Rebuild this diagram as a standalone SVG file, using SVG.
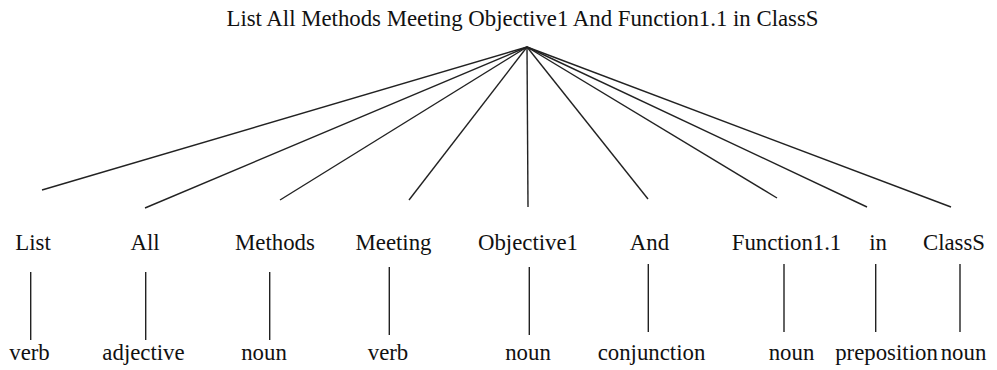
<svg xmlns="http://www.w3.org/2000/svg" width="997" height="370" viewBox="0 0 997 370">
<style>
.c line{stroke:#222;stroke-width:1.4}
</style>
<rect width="997" height="370" fill="#fff"/>
<g font-family="Liberation Serif, Times New Roman, DejaVu Serif, serif" font-size="22.8" fill="#111" text-anchor="middle">
<g id="root"><text x="522.5" y="26">List All Methods Meeting Objective1 And Function1.1 in ClassS</text></g>
<g id="w1"><text x="33" y="250">List</text><text x="29.5" y="360">verb</text></g>
<g id="w2"><text x="145" y="250">All</text><text x="143.5" y="360">adjective</text></g>
<g id="w3"><text x="275" y="250">Methods</text><text x="264" y="360">noun</text></g>
<g id="w4"><text x="393.5" y="250">Meeting</text><text x="388" y="360">verb</text></g>
<g id="w5"><text x="528" y="250">Objective1</text><text x="528" y="360">noun</text></g>
<g id="w6"><text x="649.5" y="250">And</text><text x="651.5" y="360">conjunction</text></g>
<g id="w7"><text x="786.5" y="250">Function1.1</text><text x="791.5" y="360">noun</text></g>
<g id="w8"><text x="878" y="250">in</text><text x="886.5" y="360">preposition</text></g>
<g id="w9"><text x="954" y="250">ClassS</text><text x="963.5" y="360">noun</text></g>
</g>
<g class="c" id="connectors">
<line x1="527" y1="47" x2="42" y2="190"/>
<line x1="527" y1="47" x2="145" y2="208"/>
<line x1="527" y1="47" x2="280" y2="200"/>
<line x1="527" y1="47" x2="409" y2="200"/>
<line x1="527" y1="47" x2="528" y2="207"/>
<line x1="527" y1="47" x2="648" y2="199"/>
<line x1="527" y1="47" x2="777" y2="198"/>
<line x1="527" y1="47" x2="867" y2="207"/>
<line x1="527" y1="47" x2="951" y2="207"/>
<line x1="30.7" y1="272" x2="30.7" y2="340"/>
<line x1="145.7" y1="272" x2="145.7" y2="340"/>
<line x1="269.7" y1="272" x2="269.7" y2="340"/>
<line x1="389.3" y1="267" x2="389.3" y2="335"/>
<line x1="529.3" y1="267" x2="529.3" y2="335"/>
<line x1="648.3" y1="264" x2="648.3" y2="332"/>
<line x1="784" y1="264" x2="784" y2="332"/>
<line x1="875.7" y1="264" x2="875.7" y2="332"/>
<line x1="960" y1="264" x2="960" y2="332"/>
</g>
</svg>
